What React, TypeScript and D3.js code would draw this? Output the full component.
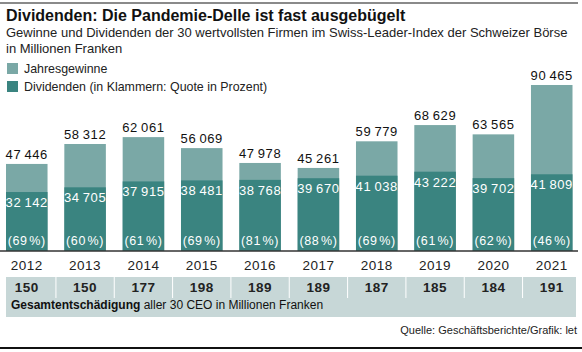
import React from "react";
import * as d3 from "d3";

const years = ["2012", "2013", "2014", "2015", "2016", "2017", "2018", "2019", "2020", "2021"];
const profits = [47446, 58312, 62061, 56069, 47978, 45261, 59779, 68629, 63565, 90465];
const dividends = [32142, 34705, 37915, 38481, 38768, 39670, 41038, 43222, 39702, 41809];
const quotes = [69, 60, 61, 69, 81, 88, 69, 61, 62, 46];
const ceoPay = [150, 150, 177, 198, 189, 189, 187, 185, 184, 191];

const title = "Dividenden: Die Pandemie-Delle ist fast ausgebügelt";
const subtitle1 = "Gewinne und Dividenden der 30 wertvollsten Firmen im Swiss-Leader-Index der Schweizer Börse";
const subtitle2 = "in Millionen Franken";
const legendLabels = ["Jahresgewinne", "Dividenden (in Klammern: Quote in Prozent)"];
const source = "Quelle: Geschäftsberichte/Grafik: let";

const W = 582;
const H = 352;
const C_PROFIT = "#7aa8a6";
const C_DIV = "#3a8480";
const C_BAND = "#c7d7d7";
const FONT = "'Liberation Sans', Arial, sans-serif";

const fmt = (v: number) => d3.format(",")(v).replace(/,/g, "\u2009");

export default function App() {
  const x = d3.scaleBand<string>().domain(years).range([6, 572.5]).paddingInner(0.288).paddingOuter(0);
  const y = d3.scaleLinear().domain([0, 100000]).range([251, 67.5]);
  const bw = x.bandwidth();
  const step = x.step();

  return (
    <svg width={W} height={H} style={{ position: "absolute", left: 0, top: 0, fontFamily: FONT }}>
      <rect x={0} y={0} width={W} height={H} fill="#fff" />
      <line x1={0} x2={578} y1={3} y2={3} stroke="#8a8a8a" strokeWidth={2} />
      <text x={6} y={20.5} fontSize={16} fontWeight={700} fill="#111">{title}</text>
      <text x={6} y={37} fontSize={13} fill="#222">{subtitle1}</text>
      <text x={6} y={53} fontSize={13} fill="#222">{subtitle2}</text>

      <rect x={7} y={63} width={11} height={11} fill={C_PROFIT} />
      <text x={24} y={73} fontSize={12.4} fill="#222">{legendLabels[0]}</text>
      <rect x={7} y={81} width={11} height={11} fill={C_DIV} />
      <text x={24} y={91} fontSize={12.4} fill="#222">{legendLabels[1]}</text>

      {years.map((yr, i) => {
        const x0 = x(yr)!;
        const cx = x0 + bw / 2;
        return (
          <g key={yr}>
            <rect x={x0} y={y(profits[i])} width={bw} height={y(0) - y(profits[i])} fill={C_PROFIT} />
            <rect x={x0} y={y(dividends[i])} width={bw} height={y(0) - y(dividends[i])} fill={C_DIV} />
            <text x={cx} y={y(profits[i]) - 5} textAnchor="middle" fontSize={13} fill="#111" letterSpacing={0.6}>{fmt(profits[i])}</text>
            <text x={cx} y={y(dividends[i]) + 15} textAnchor="middle" fontSize={13} fill="#fff" letterSpacing={0.6}>{fmt(dividends[i])}</text>
            <text x={cx} y={245} textAnchor="middle" fontSize={12.5} fill="#fff" letterSpacing={0.6}>{`(${quotes[i]}\u200A%)`}</text>
            <text x={cx} y={269.5} textAnchor="middle" fontSize={13.5} fill="#222" letterSpacing={0.5}>{yr}</text>
          </g>
        );
      })}
      <line x1={0} x2={578} y1={251} y2={251} stroke="#333" strokeWidth={1.5} />

      <rect x={6} y={277} width={570} height={40} fill={C_BAND} />
      {years.slice(0, -1).map((yr) => {
        const sx = x(yr)! + bw + (step - bw) / 2;
        return <line key={"s" + yr} x1={sx} x2={sx} y1={277} y2={298} stroke="#fff" strokeWidth={1} />;
      })}
      {years.map((yr, i) => (
        <text key={"c" + yr} x={x(yr)! + bw / 2} y={292} textAnchor="middle" fontSize={13.5} fontWeight={700} fill="#222" letterSpacing={0.5}>{ceoPay[i]}</text>
      ))}
      <text x={11} y={308.5} fontSize={12} fill="#111">
        <tspan fontWeight={700}>Gesamtentschädigung</tspan>
        <tspan> aller 30 CEO in Millionen Franken</tspan>
      </text>
      <text x={577} y={334} textAnchor="end" fontSize={11} fill="#222">{source}</text>
      <line x1={0} x2={582} y1={348} y2={348} stroke="#111" strokeWidth={2} />
    </svg>
  );
}
